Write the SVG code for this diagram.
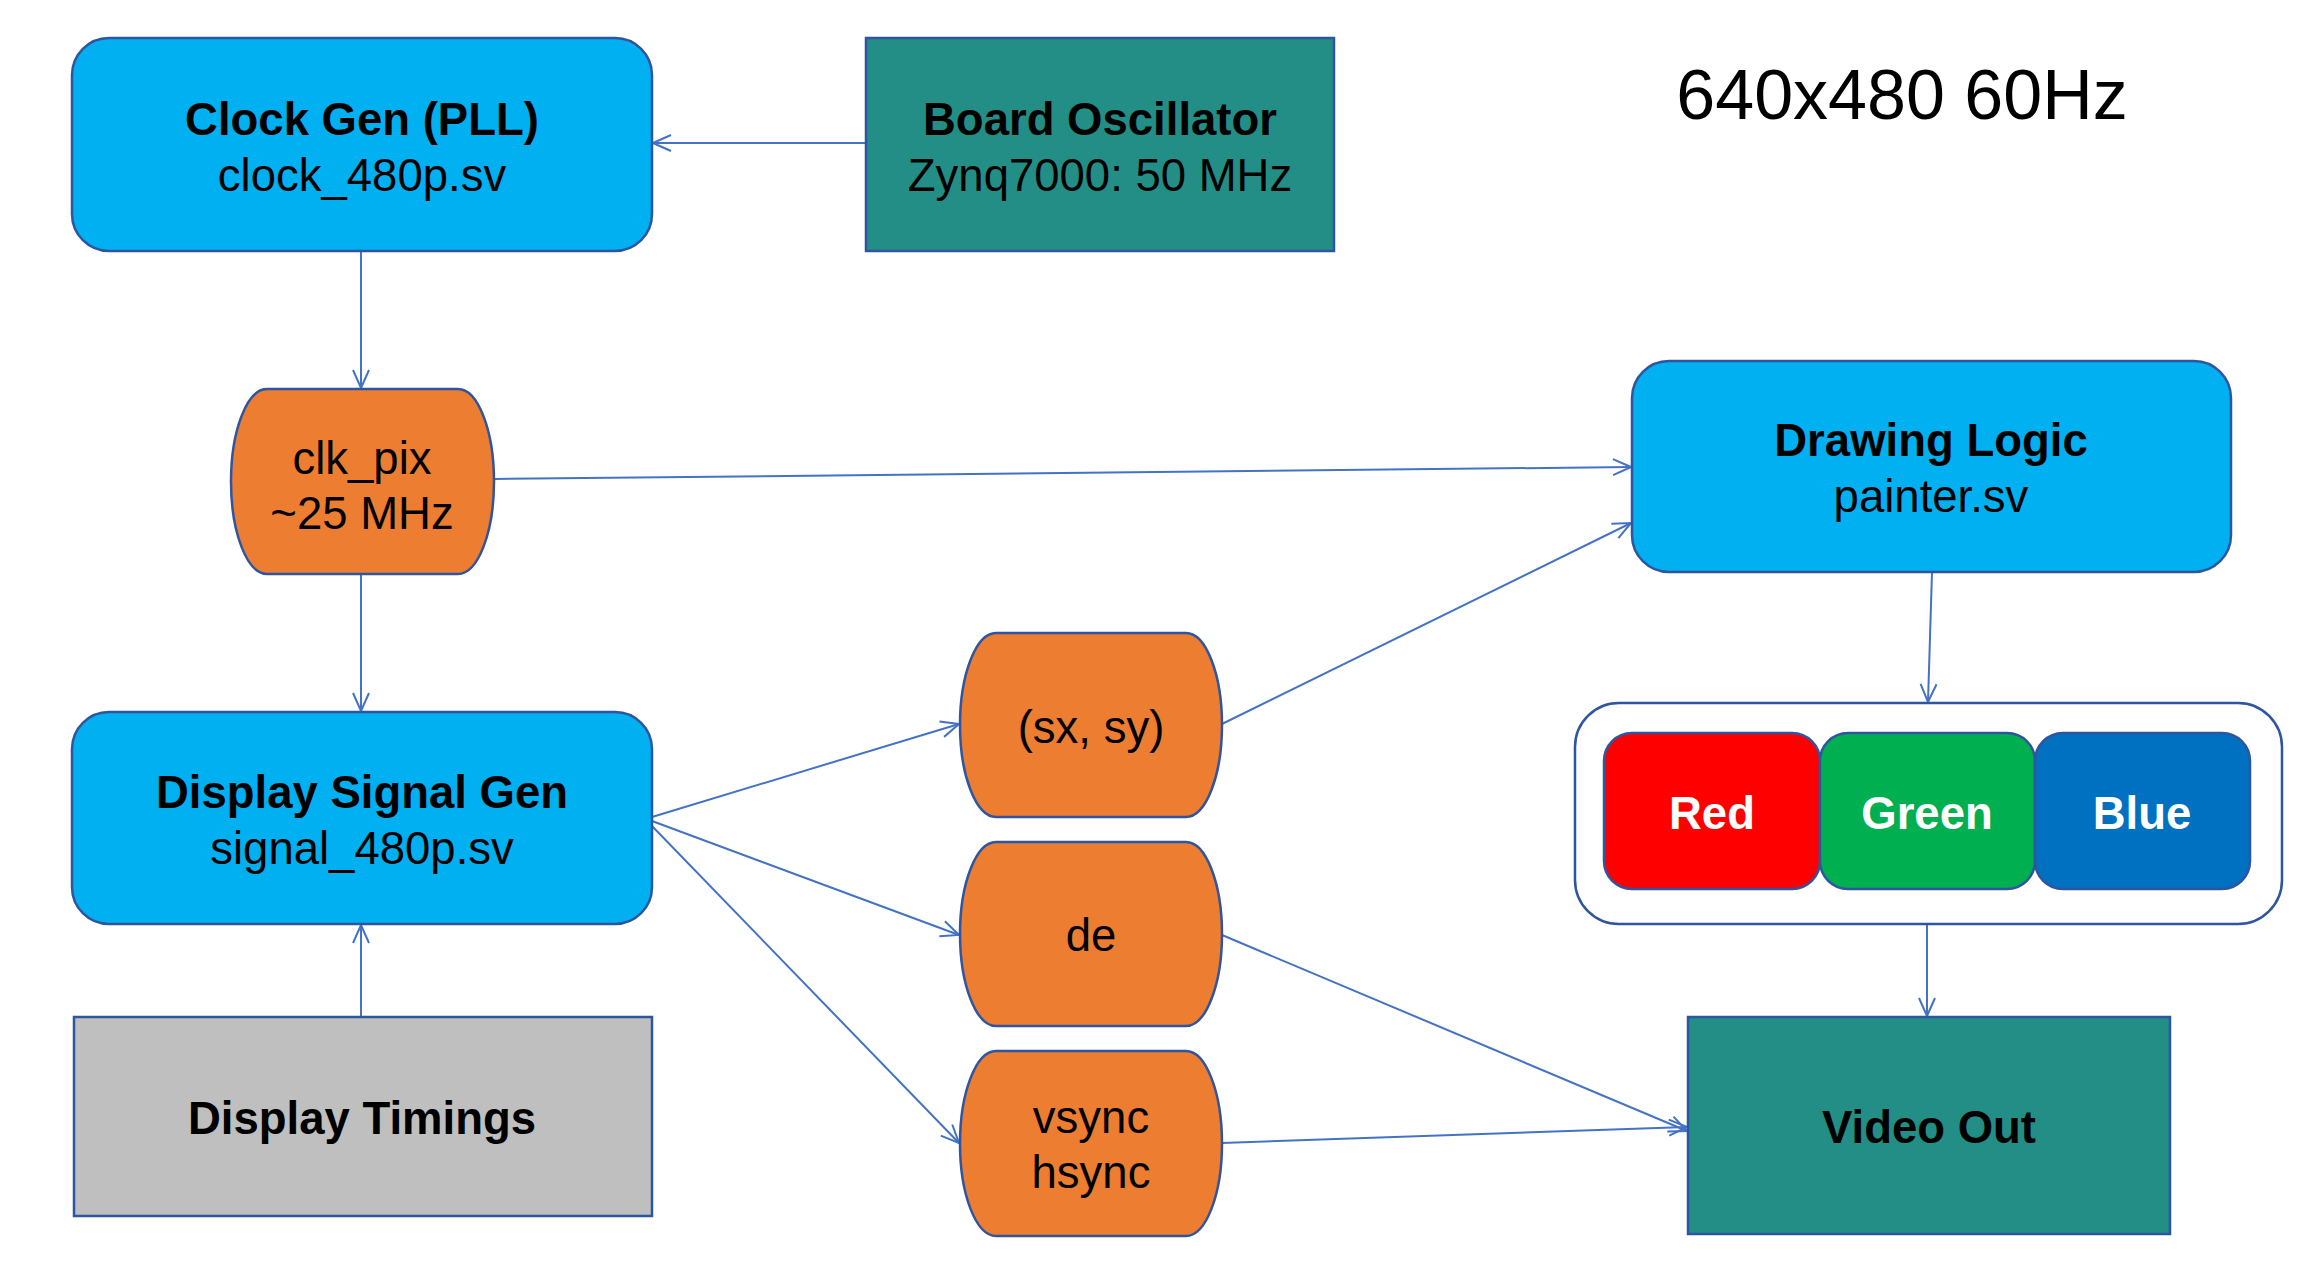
<svg xmlns="http://www.w3.org/2000/svg" width="2312" height="1268" viewBox="0 0 2312 1268">
<style>
.n{stroke:#2F55A0;stroke-width:2.5}
.blue{fill:#00B0F0}
.teal{fill:#238E86}
.org{fill:#ED7D31}
.t{font-family:"Liberation Sans",Arial,sans-serif;font-size:45.5px;fill:#000;text-anchor:middle}
.b{font-weight:bold}
.w{fill:#fff}
.c{stroke:#4472C4;stroke-width:2;fill:none;marker-end:url(#ah)}
</style>
<defs>
<marker id="ah" viewBox="0 0 20 20" refX="19" refY="10" markerWidth="20" markerHeight="20" markerUnits="userSpaceOnUse" orient="auto">
<path d="M1,2 L19,10 L1,18" fill="none" stroke="#4472C4" stroke-width="2"/>
</marker>
</defs>
<rect width="2312" height="1268" fill="#fff"/>
<text class="t" x="1902" y="119" style="font-size:70px">640x480 60Hz</text>

<g id="connectors">
<line class="c" x1="866" y1="143" x2="653" y2="143"/>
<line class="c" x1="361" y1="251" x2="361" y2="388"/>
<line class="c" x1="361" y1="574" x2="361" y2="711"/>
<line class="c" x1="494" y1="479" x2="1631" y2="467"/>
<line class="c" x1="361" y1="1017" x2="361" y2="925"/>
<line class="c" x1="652" y1="817" x2="959" y2="724"/>
<line class="c" x1="652" y1="821" x2="959" y2="935"/>
<line class="c" x1="652" y1="826" x2="959" y2="1143"/>
<line class="c" x1="1222" y1="724" x2="1631" y2="523"/>
<line class="c" x1="1932" y1="572" x2="1928" y2="702"/>
<line class="c" x1="1927" y1="924" x2="1927" y2="1016"/>
<line class="c" x1="1222" y1="935" x2="1687" y2="1131"/>
<line class="c" x1="1222" y1="1143" x2="1687" y2="1127"/>
</g>

<g id="clock_gen">
<rect class="n blue" x="72" y="38" width="580" height="213" rx="37"/>
<text class="t b" x="362" y="135">Clock Gen (PLL)</text>
<text class="t" x="362" y="191">clock_480p.sv</text>
</g>

<g id="board_osc">
<rect class="n teal" x="866" y="38" width="468" height="213"/>
<text class="t b" x="1100" y="135">Board Oscillator</text>
<text class="t" x="1100" y="191">Zynq7000: 50 MHz</text>
</g>

<g id="clk_pix">
<rect class="n org" x="231" y="389" width="263" height="185" rx="36" ry="92.5"/>
<text class="t" x="362" y="474">clk_pix</text>
<text class="t" x="362" y="529">~25 MHz</text>
</g>

<g id="signal_gen">
<rect class="n blue" x="72" y="712" width="580" height="212" rx="37"/>
<text class="t b" x="362" y="808">Display Signal Gen</text>
<text class="t" x="362" y="864">signal_480p.sv</text>
</g>

<g id="timings">
<rect class="n" fill="#BFBFBF" x="74" y="1017" width="578" height="199"/>
<text class="t b" x="362" y="1134">Display Timings</text>
</g>

<g id="sxsy">
<rect class="n org" x="960" y="633" width="262" height="184" rx="36" ry="92"/>
<text class="t" x="1091" y="743">(sx, sy)</text>
</g>

<g id="de">
<rect class="n org" x="960" y="842" width="262" height="184" rx="36" ry="92"/>
<text class="t" x="1091" y="951">de</text>
</g>

<g id="sync">
<rect class="n org" x="960" y="1051" width="262" height="185" rx="36" ry="92.5"/>
<text class="t" x="1091" y="1133">vsync</text>
<text class="t" x="1091" y="1188">hsync</text>
</g>

<g id="drawing_logic">
<rect class="n blue" x="1632" y="361" width="599" height="211" rx="37"/>
<text class="t b" x="1931" y="456">Drawing Logic</text>
<text class="t" x="1931" y="512">painter.sv</text>
</g>

<g id="rgb">
<rect class="n" fill="#fff" x="1575" y="703" width="707" height="221" rx="44"/>
<rect class="n" fill="#FF0000" x="1604" y="733" width="216" height="156" rx="28"/>
<rect class="n" fill="#00B050" x="1820" y="733" width="215" height="156" rx="28"/>
<rect class="n" fill="#0070C0" x="2035" y="733" width="215" height="156" rx="28"/>
<text class="t b w" x="1712" y="829">Red</text>
<text class="t b w" x="1927" y="829">Green</text>
<text class="t b w" x="2142" y="829">Blue</text>
</g>

<g id="video_out">
<rect class="n teal" x="1688" y="1017" width="482" height="217"/>
<text class="t b" x="1929" y="1143">Video Out</text>
</g>
</svg>
